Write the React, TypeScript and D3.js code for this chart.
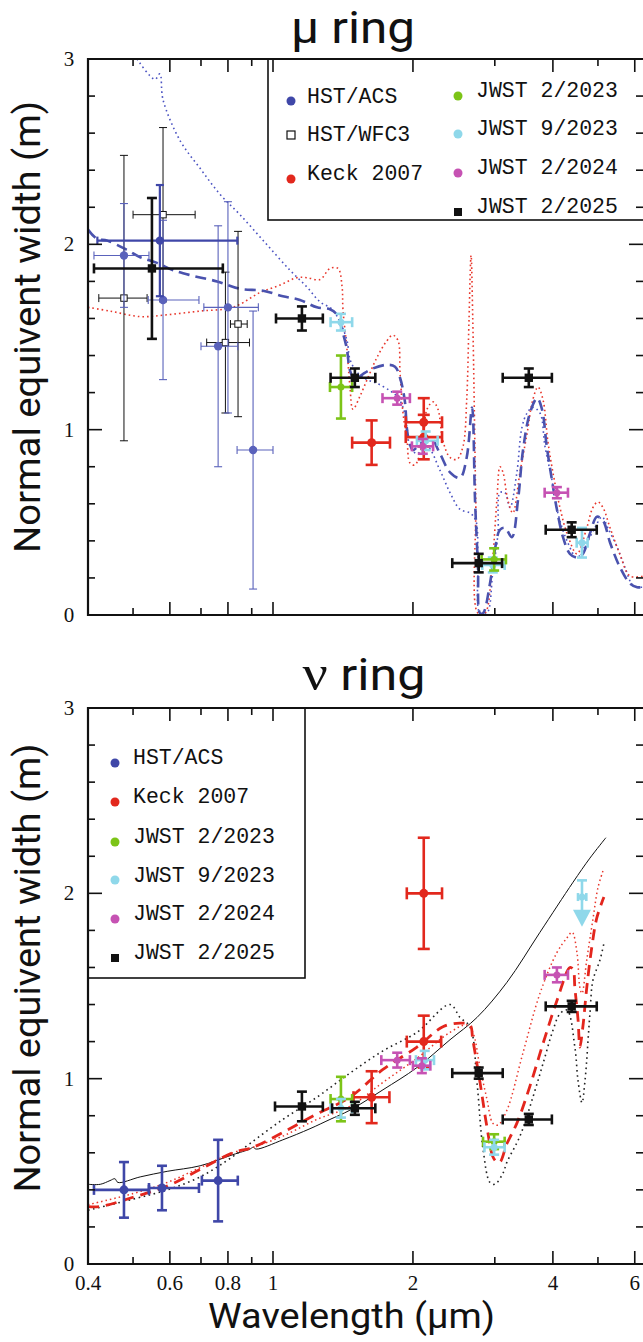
import React from "react";
import * as d3 from "d3";

// ---------- tick values ----------
const xTicksMajor = [0.4, 0.6, 0.8, 1, 2, 4, 6];
const xTicksMinor = [0.5, 0.7, 0.9, 3, 5];
const xTickLabels = ["0.4", "0.6", "0.8", "1", "2", "4", "6"];
const yTicksMajor = [0, 1, 2, 3];
const yTickLabels = ["0", "1", "2", "3"];
const yTicksMinor = [0.2, 0.4, 0.6, 0.8, 1.2, 1.4, 1.6, 1.8, 2.2, 2.4, 2.6, 2.8];

// ---------- μ ring data: [λ, W, λlo, λhi, ±err] ----------
const muACS = [
  [0.478, 1.94, 0.412, 0.541, 0.28],
  [0.58, 1.7, 0.539, 0.693, 0.43],
  [0.762, 1.45, 0.70, 0.84, 0.65],
  [0.80, 1.66, 0.71, 0.93, 0.57],
  [0.906, 0.89, 0.837, 1.0, 0.75],
];
const muACSBroad = [[0.571, 2.02, 0.419, 0.838, 0.3]];
const muWFC3 = [
  [0.478, 1.71, 0.422, 0.536, 0.77],
  [0.58, 2.16, 0.5, 0.68, 0.47],
  [0.79, 1.47, 0.72, 0.89, 0.38],
  [0.841, 1.57, 0.81, 0.88, 0.5],
];
const muKeck = [
  [1.63, 0.93, 1.48, 1.785, 0.12],
  [2.11, 1.04, 1.93, 2.31, 0.13],
  [2.11, 0.96, 1.93, 2.31, 0.12],
];
const muJ2023a = [
  [1.4, 1.23, 1.326, 1.48, 0.17],
  [2.99, 0.3, 2.81, 3.17, 0.06],
];
const muJ2023b = [
  [1.4, 1.58, 1.33, 1.48, 0.045],
  [2.13, 0.94, 2.04, 2.26, 0.05],
  [2.97, 0.27, 2.82, 3.15, 0.04],
  [4.62, 0.39, 4.5, 4.75, 0.08],
];
const muJ2024 = [
  [1.85, 1.17, 1.72, 1.97, 0.035],
  [2.1, 0.91, 1.99, 2.21, 0.04],
  [4.08, 0.66, 3.84, 4.31, 0.03],
];
const muJ2025 = [
  [0.549, 1.87, 0.412, 0.78, 0.38],
  [1.154, 1.6, 1.015, 1.28, 0.065],
  [1.5, 1.28, 1.33, 1.66, 0.05],
  [2.77, 0.28, 2.43, 3.11, 0.05],
  [3.55, 1.28, 3.12, 3.98, 0.05],
  [4.39, 0.46, 3.86, 4.97, 0.04],
];

// μ ring model curves [λ, W]
const muModelDashed = [
  [0.4, 2.08], [0.418, 2.03], [0.44, 2.02], [0.485, 1.97], [0.518, 1.93], [0.563, 1.9], [0.61, 1.86],
  [0.673, 1.83], [0.758, 1.8], [0.849, 1.76], [0.952, 1.75], [1.05, 1.72], [1.143, 1.7], [1.243, 1.66],
  [1.326, 1.65], [1.373, 1.62], [1.414, 1.52], [1.443, 1.43], [1.464, 1.32], [1.5, 1.27], [1.561, 1.3],
  [1.64, 1.33], [1.758, 1.35], [1.83, 1.34], [1.876, 1.28], [1.92, 1.16], [1.95, 0.97], [2.0, 0.89],
  [2.05, 0.91], [2.176, 0.96], [2.287, 0.87], [2.403, 0.77], [2.525, 0.74], [2.61, 0.85], [2.68, 1.12],
  [2.72, 0.62], [2.76, 0.26], [2.788, 0.01], [2.83, 0.01], [2.929, 0.17], [3.0, 0.35], [3.078, 0.46],
  [3.155, 0.47], [3.265, 0.42], [3.365, 0.62], [3.45, 0.89], [3.57, 1.09], [3.7, 1.17], [3.79, 1.11],
  [3.88, 0.91], [3.98, 0.73], [4.08, 0.57], [4.205, 0.42], [4.352, 0.33], [4.507, 0.31], [4.64, 0.33],
  [4.805, 0.44], [4.975, 0.53], [5.125, 0.51], [5.31, 0.39], [5.57, 0.26], [5.86, 0.17], [6.07, 0.15],
  [6.25, 0.15],
];
const muModelDotted = [
  [0.51, 3.0], [0.557, 2.89], [0.571, 2.92], [0.58, 2.78], [0.631, 2.56], [0.697, 2.41], [0.769, 2.27],
  [0.849, 2.16], [0.961, 2.01], [1.088, 1.86], [1.183, 1.77], [1.262, 1.69], [1.34, 1.65], [1.394, 1.58],
  [1.443, 1.48], [1.464, 1.38], [1.516, 1.31], [1.593, 1.27], [1.674, 1.25], [1.785, 1.21], [1.848, 1.18],
  [1.904, 1.12], [1.942, 1.01], [1.971, 0.91], [2.04, 0.87], [2.144, 0.91], [2.287, 0.78], [2.403, 0.66],
  [2.525, 0.57], [2.653, 0.55], [2.73, 0.51], [2.76, 0.3], [2.788, 0.01], [2.885, 0.01], [2.97, 0.23],
  [3.047, 0.44], [3.078, 0.66], [3.155, 0.66], [3.234, 0.58], [3.347, 0.77], [3.43, 1.01], [3.52, 1.09],
  [3.62, 1.12], [3.752, 1.09], [3.846, 0.91], [3.98, 0.73], [4.1, 0.55], [4.29, 0.4], [4.507, 0.31],
  [4.73, 0.39], [4.925, 0.47], [5.1, 0.53], [5.25, 0.47], [5.49, 0.37], [5.71, 0.26], [5.95, 0.16],
  [6.25, 0.15],
];
const muModelRed = [
  [0.4, 1.66], [0.446, 1.64], [0.518, 1.61], [0.592, 1.62], [0.697, 1.64], [0.82, 1.66], [0.938, 1.74],
  [1.035, 1.78], [1.126, 1.82], [1.183, 1.82], [1.262, 1.81], [1.326, 1.87], [1.38, 1.87], [1.408, 1.77],
  [1.414, 1.65], [1.443, 1.43], [1.464, 1.23], [1.486, 1.11], [1.538, 1.18], [1.6, 1.28], [1.674, 1.39],
  [1.758, 1.48], [1.81, 1.51], [1.858, 1.48], [1.876, 1.31], [1.904, 1.09], [1.942, 0.94], [1.971, 0.82],
  [2.02, 0.81], [2.1, 0.94], [2.144, 1.11], [2.21, 1.15], [2.264, 1.11], [2.32, 0.94], [2.403, 0.85],
  [2.487, 0.84], [2.563, 0.91], [2.61, 1.16], [2.64, 1.59], [2.667, 1.94], [2.69, 1.59], [2.73, 0.62],
  [2.76, 0.01], [2.857, 0.01], [2.957, 0.26], [3.031, 0.62], [3.078, 0.8], [3.124, 0.77], [3.2, 0.62],
  [3.28, 0.55], [3.398, 0.77], [3.52, 0.98], [3.62, 1.16], [3.715, 1.23], [3.81, 1.16], [3.9, 0.94],
  [4.0, 0.77], [4.142, 0.58], [4.29, 0.44], [4.507, 0.33], [4.73, 0.47], [4.877, 0.58], [5.0, 0.61],
  [5.125, 0.58], [5.31, 0.47], [5.57, 0.33], [5.86, 0.21], [6.25, 0.21],
];

// ---------- ν ring data ----------
const nuACS = [
  [0.478, 0.4, 0.412, 0.541, 0.15],
  [0.577, 0.41, 0.541, 0.693, 0.12],
  [0.762, 0.45, 0.703, 0.84, 0.22],
];
const nuKeck = [
  [1.63, 0.9, 1.49, 1.78, 0.14],
  [2.11, 2.0, 1.94, 2.31, 0.3],
  [2.11, 1.2, 1.94, 2.3, 0.14],
];
const nuJ2023a = [
  [1.4, 0.89, 1.33, 1.48, 0.12],
  [2.99, 0.66, 2.83, 3.15, 0.04],
];
const nuJ2023b = [
  [1.4, 0.84, 1.33, 1.48, 0.05],
  [2.12, 1.1, 2.03, 2.22, 0.05],
  [2.99, 0.63, 2.85, 3.15, 0.04],
];
// upper limit: [λ, W, λlo, λhi, top, arrow tip]
const nuJ2023bLimit = [[4.62, 1.98, 4.53, 4.72, 2.07, 1.82]];
const nuJ2024 = [
  [1.85, 1.1, 1.71, 1.97, 0.04],
  [2.09, 1.07, 2.0, 2.18, 0.04],
  [4.08, 1.56, 3.84, 4.31, 0.04],
];
const nuJ2025 = [
  [1.154, 0.85, 1.01, 1.28, 0.08],
  [1.5, 0.84, 1.34, 1.66, 0.035],
  [2.77, 1.03, 2.43, 3.12, 0.03],
  [3.55, 0.78, 3.12, 3.98, 0.03],
  [4.39, 1.39, 3.86, 4.97, 0.03],
];

const nuModelSolid = [
  [0.4, 0.43], [0.425, 0.43], [0.446, 0.45], [0.457, 0.46], [0.464, 0.44], [0.518, 0.47], [0.592, 0.5],
  [0.697, 0.53], [0.82, 0.59], [0.892, 0.62], [0.906, 0.63], [0.92, 0.62], [1.05, 0.67], [1.201, 0.73],
  [1.326, 0.78], [1.464, 0.83], [1.724, 0.94], [2.04, 1.06], [2.403, 1.21], [2.746, 1.33], [3.186, 1.52],
  [3.752, 1.79], [4.42, 2.06], [4.805, 2.19], [5.2, 2.3],
];
const nuModelBlackDot = [
  [0.4, 0.29], [0.5, 0.35], [0.592, 0.4], [0.697, 0.47], [0.82, 0.58], [0.892, 0.65], [1.05, 0.78],
  [1.243, 0.9], [1.464, 1.03], [1.724, 1.15], [2.04, 1.25], [2.403, 1.4], [2.525, 1.33], [2.653, 1.28],
  [2.746, 0.98], [2.83, 0.62], [2.929, 0.44], [3.0, 0.43], [3.124, 0.49], [3.186, 0.55], [3.398, 0.69],
  [3.623, 0.9], [3.808, 1.08], [4.0, 1.26], [4.142, 1.35], [4.29, 1.37], [4.46, 1.17], [4.53, 0.99],
  [4.62, 0.87], [4.69, 0.99], [4.805, 1.35], [4.877, 1.53], [5.05, 1.64], [5.15, 1.73],
];
const nuModelRedDash = [
  [0.4, 0.31], [0.425, 0.31], [0.5, 0.36], [0.592, 0.42], [0.697, 0.51], [0.82, 0.6], [0.906, 0.63],
  [1.05, 0.71], [1.243, 0.81], [1.464, 0.9], [1.724, 1.05], [2.04, 1.17], [2.32, 1.28], [2.525, 1.3],
  [2.653, 1.29], [2.69, 1.21], [2.788, 0.98], [2.885, 0.74], [2.97, 0.58], [3.031, 0.55], [3.078, 0.55],
  [3.186, 0.65], [3.347, 0.76], [3.57, 0.96], [3.81, 1.19], [4.08, 1.42], [4.352, 1.6], [4.42, 1.59],
  [4.46, 1.49], [4.53, 1.32], [4.573, 1.17], [4.64, 1.28], [4.73, 1.49], [4.85, 1.71], [4.975, 1.87],
  [5.15, 1.98],
];
const nuModelRedDot = [
  [0.4, 0.32], [0.5, 0.38], [0.592, 0.44], [0.697, 0.52], [0.82, 0.6], [0.906, 0.63], [1.05, 0.69],
  [1.243, 0.78], [1.464, 0.85], [1.724, 0.98], [2.04, 1.11], [2.403, 1.25], [2.61, 1.29], [2.69, 1.25],
  [2.788, 1.06], [2.885, 0.89], [2.97, 0.76], [3.047, 0.75], [3.186, 0.83], [3.45, 1.14], [3.752, 1.46],
  [4.08, 1.68], [4.29, 1.76], [4.4, 1.79], [4.507, 1.68], [4.573, 1.49], [4.62, 1.46], [4.73, 1.64],
  [4.877, 1.86], [5.0, 2.03], [5.125, 2.12],
];

// ---------- legends ----------
const muLegend1 = ["HST/ACS", "HST/WFC3", "Keck 2007"];
const muLegend2 = ["JWST 2/2023", "JWST 9/2023", "JWST 2/2024", "JWST 2/2025"];
const nuLegend = ["HST/ACS", "Keck 2007", "JWST 2/2023", "JWST 9/2023", "JWST 2/2024", "JWST 2/2025"];

// ---------- styles ----------
const C = {
  acs: "#3f47a8",
  acsThin: "#5a62bb",
  keck: "#e2281d",
  green: "#7cc417",
  cyan: "#8fd8ea",
  mag: "#c652b3",
  black: "#111111",
};

const LEFT = 88, RIGHT = 643;
const xScale = d3.scaleLog().domain([0.4, 6.25]).range([LEFT, RIGHT]);

type Pt = number[];

function ErrBars({ pts, ys, color, sw, cap, marker, r = 4 }: any) {
  return (
    <g>
      {pts.map((p: Pt, i: number) => {
        const [lx, w, lo, hi, e] = p;
        const cx = xScale(lx), cy = ys(w);
        const x0 = xScale(lo), x1 = xScale(hi);
        const yt = ys(w + e), yb = ys(w - e);
        return (
          <g key={i} stroke={color} strokeWidth={sw} fill="none">
            <line x1={x0} x2={x1} y1={cy} y2={cy} />
            <line x1={x0} x2={x0} y1={cy - cap} y2={cy + cap} />
            <line x1={x1} x2={x1} y1={cy - cap} y2={cy + cap} />
            <line x1={cx} x2={cx} y1={yt} y2={yb} />
            <line x1={cx - cap} x2={cx + cap} y1={yt} y2={yt} />
            <line x1={cx - cap} x2={cx + cap} y1={yb} y2={yb} />
            {marker === "circle" && <circle cx={cx} cy={cy} r={r} fill={color} stroke="none" />}
            {marker === "square" && <rect x={cx - r} y={cy - r} width={2 * r} height={2 * r} fill={color} stroke="none" />}
            {marker === "open" && <rect x={cx - r} y={cy - r} width={2 * r} height={2 * r} fill="white" stroke={color} strokeWidth={1} />}
          </g>
        );
      })}
    </g>
  );
}

function Curve({ data, ys, stroke, sw, dash }: any) {
  const line = d3
    .line<number[]>()
    .x((d) => xScale(d[0]))
    .y((d) => ys(d[1]))
    .curve(d3.curveCatmullRom.alpha(0.5));
  return <path d={line(data as any) || ""} fill="none" stroke={stroke} strokeWidth={sw} strokeDasharray={dash} />;
}

function Frame({ top, bottom, ys, showXLabels }: any) {
  const els: any[] = [];
  xTicksMajor.forEach((t, i) => {
    const x = xScale(t);
    els.push(<line key={"xt" + i} x1={x} x2={x} y1={top} y2={top + 13} />);
    els.push(<line key={"xb" + i} x1={x} x2={x} y1={bottom} y2={bottom - 13} />);
  });
  xTicksMinor.forEach((t, i) => {
    const x = xScale(t);
    els.push(<line key={"xmt" + i} x1={x} x2={x} y1={top} y2={top + 7} />);
    els.push(<line key={"xmb" + i} x1={x} x2={x} y1={bottom} y2={bottom - 7} />);
  });
  yTicksMajor.forEach((t, i) => {
    const y = ys(t);
    els.push(<line key={"yl" + i} x1={LEFT} x2={LEFT + 14} y1={y} y2={y} />);
    els.push(<line key={"yr" + i} x1={RIGHT} x2={RIGHT - 14} y1={y} y2={y} />);
  });
  yTicksMinor.forEach((t, i) => {
    const y = ys(t);
    els.push(<line key={"yml" + i} x1={LEFT} x2={LEFT + 7} y1={y} y2={y} />);
    els.push(<line key={"ymr" + i} x1={RIGHT} x2={RIGHT - 7} y1={y} y2={y} />);
  });
  return (
    <g>
      <g stroke="#111" strokeWidth={1.6}>{els}</g>
      <path d={`M${RIGHT + 2},${top}H${LEFT}V${bottom}H${RIGHT + 2}`} fill="none" stroke="#111" strokeWidth={2.2} />
      <g fontFamily="'Liberation Serif', serif" fontSize={21} fill="#111" textAnchor="middle">
        {yTicksMajor.map((t, i) => (
          <text key={i} x={69} y={ys(t) + 7}>{yTickLabels[i]}</text>
        ))}
        {showXLabels &&
          xTicksMajor.map((t, i) => (
            <text key={"x" + i} x={xScale(t)} y={bottom + 26}>{xTickLabels[i]}</text>
          ))}
      </g>
    </g>
  );
}

function LegendMarker({ kind, x, y, color }: any) {
  if (kind === "square") return <rect x={x - 4} y={y - 4} width={8} height={8} fill={color} />;
  if (kind === "open") return <rect x={x - 4} y={y - 4} width={8} height={8} fill="white" stroke={color} strokeWidth={1.2} />;
  return <circle cx={x} cy={y} r={4.5} fill={color} />;
}

export default function App() {
  const yTop = d3.scaleLinear().domain([0, 3]).range([615, 59]);
  const yBot = d3.scaleLinear().domain([0, 3]).range([1264, 708]);

  const muLegendKinds1 = [["circle", C.acs], ["open", C.black], ["circle", C.keck]];
  const muLegendKinds2 = [["circle", C.green], ["circle", C.cyan], ["circle", C.mag], ["square", C.black]];
  const nuLegendKinds = [["circle", C.acs], ["circle", C.keck], ["circle", C.green], ["circle", C.cyan], ["circle", C.mag], ["square", C.black]];

  return (
    <svg width={643} height={1342} style={{ position: "absolute", left: 0, top: 0, background: "white" }}>
      <defs>
        <clipPath id="clipTop"><rect x={LEFT} y={59} width={RIGHT - LEFT} height={556} /></clipPath>
        <clipPath id="clipBot"><rect x={LEFT} y={708} width={RIGHT - LEFT} height={556} /></clipPath>
      </defs>
      <rect x={0} y={0} width={643} height={1342} fill="white" />

      {/* Titles */}
      <g fontFamily="Roboto, 'Open Sans', sans-serif" fill="#111" textAnchor="middle">
        <text x={353} y={43} fontSize={45} textLength={124} lengthAdjust="spacingAndGlyphs">μ ring</text>
        <text x={364} y={690} fontSize={45} textLength={123} lengthAdjust="spacingAndGlyphs">
          <tspan fontFamily="'Liberation Serif', serif" fontSize={50}>ν</tspan> ring
        </text>
        <text x={351.5} y={1328} fontSize={35} textLength={287} lengthAdjust="spacingAndGlyphs">Wavelength (μm)</text>
        <text transform="translate(40,327) rotate(-90)" fontSize={36} textLength={452} lengthAdjust="spacingAndGlyphs">Normal equivent width (m)</text>
        <text transform="translate(40,968) rotate(-90)" fontSize={36} textLength={449} lengthAdjust="spacingAndGlyphs">Normal equivent width (m)</text>
      </g>

      {/* ===== μ ring panel ===== */}
      <g clipPath="url(#clipTop)">
        <Curve data={muModelDotted} ys={yTop} stroke="#4b53c2" sw={1.6} dash="1.6 3.2" />
        <Curve data={muModelRed} ys={yTop} stroke="#e8372c" sw={1.6} dash="1.6 3" />
        <Curve data={muModelDashed} ys={yTop} stroke="#4a52ae" sw={2.6} dash="11 6" />
        <ErrBars pts={muWFC3} ys={yTop} color={C.black} sw={1} cap={4} marker="open" r={3.2} />
        <ErrBars pts={muACS} ys={yTop} color={C.acsThin} sw={1.1} cap={4} marker="circle" r={4.2} />
        <ErrBars pts={muACSBroad} ys={yTop} color={C.acs} sw={2.2} cap={4} marker="circle" r={4.2} />
        <ErrBars pts={muKeck} ys={yTop} color={C.keck} sw={2.6} cap={6} marker="circle" r={4.5} />
        <ErrBars pts={muJ2023b} ys={yTop} color={C.cyan} sw={2.6} cap={5} marker="circle" r={3.5} />
        <ErrBars pts={muJ2023a} ys={yTop} color={C.green} sw={2.6} cap={5} marker="circle" r={3.5} />
        <ErrBars pts={muJ2024} ys={yTop} color={C.mag} sw={2.6} cap={5} marker="circle" r={3.5} />
        <ErrBars pts={muJ2025} ys={yTop} color={C.black} sw={2.6} cap={5} marker="square" r={4.2} />
      </g>
      {/* μ legend */}
      <rect x={268} y={59} width={380} height={161} fill="white" stroke="#111" strokeWidth={1.6} />
      <g fontFamily="'Liberation Mono', monospace" fontSize={21.5} fill="#111">
        {muLegend1.map((s, i) => (
          <g key={i}>
            <LegendMarker kind={muLegendKinds1[i][0]} color={muLegendKinds1[i][1]} x={291} y={[101, 135, 179][i]} />
            <text x={307} y={[103, 141, 180][i]}>{s}</text>
          </g>
        ))}
        {muLegend2.map((s, i) => (
          <g key={i}>
            <LegendMarker kind={muLegendKinds2[i][0]} color={muLegendKinds2[i][1]} x={458} y={[96, 134, 173, 212][i]} />
            <text x={476} y={[97, 135, 174, 213][i]}>{s}</text>
          </g>
        ))}
      </g>
      <Frame top={59} bottom={615} ys={yTop} showXLabels={false} />

      {/* ===== ν ring panel ===== */}
      <g clipPath="url(#clipBot)">
        <Curve data={nuModelSolid} ys={yBot} stroke="#111" sw={1} />
        <Curve data={nuModelBlackDot} ys={yBot} stroke="#222" sw={1.6} dash="1.6 3.6" />
        <Curve data={nuModelRedDot} ys={yBot} stroke="#e8372c" sw={1.5} dash="1.5 3" />
        <Curve data={nuModelRedDash} ys={yBot} stroke="#e3261d" sw={2.8} dash="11 7" />
        <ErrBars pts={nuACS} ys={yBot} color={C.acs} sw={2.6} cap={5} marker="circle" r={4.5} />
        <ErrBars pts={nuKeck} ys={yBot} color={C.keck} sw={2.6} cap={6} marker="circle" r={4.5} />
        <ErrBars pts={nuJ2023a} ys={yBot} color={C.green} sw={2.6} cap={5} marker="circle" r={3.5} />
        <ErrBars pts={nuJ2023b} ys={yBot} color={C.cyan} sw={2.6} cap={5} marker="circle" r={3.5} />
        {nuJ2023bLimit.map((p, i) => {
          const [lx, w, lo, hi, top, tip] = p;
          const cx = xScale(lx), cy = yBot(w), yt = yBot(top), yTip = yBot(tip);
          return (
            <g key={i} stroke={C.cyan} strokeWidth={2.6} fill={C.cyan}>
              <line x1={cx} x2={cx} y1={yt} y2={yTip - 12} />
              <line x1={cx - 5} x2={cx + 5} y1={yt} y2={yt} />
              <line x1={xScale(lo)} x2={xScale(hi)} y1={cy} y2={cy} />
              <line x1={xScale(lo)} x2={xScale(lo)} y1={cy - 4} y2={cy + 4} />
              <line x1={xScale(hi)} x2={xScale(hi)} y1={cy - 4} y2={cy + 4} />
              <circle cx={cx} cy={cy} r={3.5} stroke="none" />
              <path d={`M${cx - 9},${yTip - 17}L${cx + 9},${yTip - 17}L${cx},${yTip}Z`} stroke="none" />
            </g>
          );
        })}
        <ErrBars pts={nuJ2024} ys={yBot} color={C.mag} sw={2.6} cap={5} marker="circle" r={3.5} />
        <ErrBars pts={nuJ2025} ys={yBot} color={C.black} sw={2.6} cap={5} marker="square" r={4.2} />
      </g>
      {/* ν legend */}
      <rect x={88} y={708} width={217} height={270} fill="white" stroke="#111" strokeWidth={1.6} />
      <g fontFamily="'Liberation Mono', monospace" fontSize={21.5} fill="#111">
        {nuLegend.map((s, i) => (
          <g key={i}>
            <LegendMarker kind={nuLegendKinds[i][0]} color={nuLegendKinds[i][1]} x={115} y={[763, 802, 842, 880, 919, 958][i]} />
            <text x={133} y={[764, 803, 843, 882, 920, 959][i]}>{s}</text>
          </g>
        ))}
      </g>
      <Frame top={708} bottom={1264} ys={yBot} showXLabels={true} />
    </svg>
  );
}
